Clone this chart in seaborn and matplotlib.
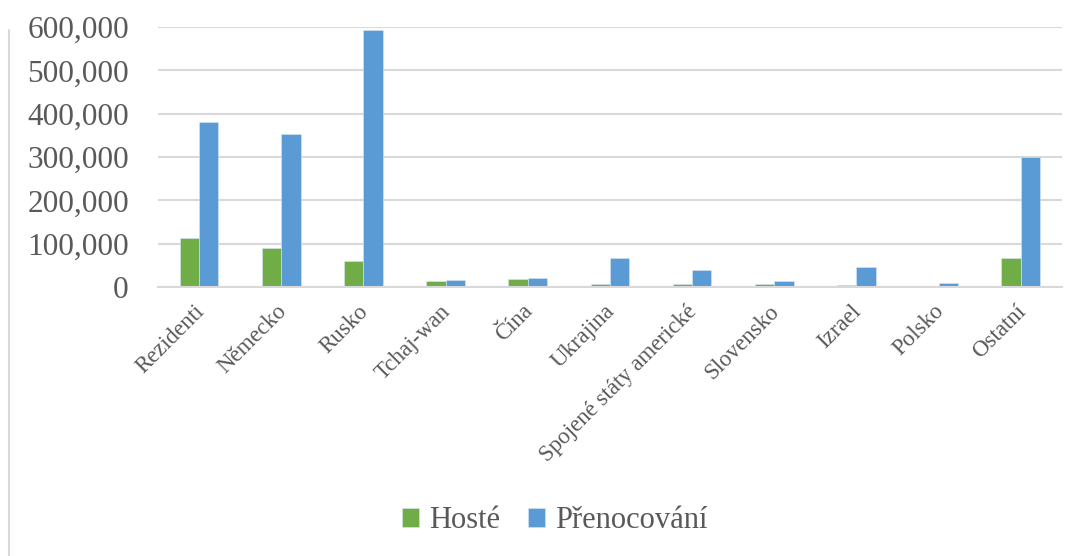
import matplotlib
matplotlib.use("Agg")
import matplotlib.pyplot as plt
import seaborn as sns
import pandas as pd
from matplotlib.lines import Line2D
from matplotlib.ticker import FuncFormatter

categories = ["Rezidenti", "Německo", "Rusko", "Tchaj-wan", "Čína", "Ukrajina",
              "Spojené státy americké", "Slovensko", "Izrael", "Polsko", "Ostatní"]
hoste = [114000, 91000, 59500, 14000, 18500, 6500, 6500, 6500, 4600, 2500, 68000]
prenocovani = [381000, 352000, 593000, 16000, 21000, 67000, 38500, 15000, 46500, 9500, 300000]
series_names = ["Hosté", "Přenocování"]
colors = ["#70ad47", "#5b9bd5"]

df = pd.DataFrame({
    "cat": categories * 2,
    "val": hoste + prenocovani,
    "series": [series_names[0]] * len(categories) + [series_names[1]] * len(categories),
})

sns.set_theme(style="white")
plt.rcParams["font.family"] = ["Liberation Serif", "DejaVu Serif"]

fig = plt.figure(figsize=(10.78, 5.56), dpi=100)
ax = fig.add_axes([0.1466, 0.4838, 0.985 - 0.1466, 0.9514 - 0.4838])

sns.barplot(data=df, x="cat", y="val", hue="series", order=categories,
            hue_order=series_names, palette=colors, width=0.47, ax=ax,
            saturation=1, edgecolor="#d6e6f5", linewidth=0.4, legend=True)

ax.set_ylim(0, 600000)
ax.set_yticks(range(0, 600001, 100000))
ax.yaxis.set_major_formatter(FuncFormatter(lambda v, p: f"{int(v):,}"))
ax.set_xlabel("")
ax.set_ylabel("")
ax.grid(axis="y", color="#d9d9d9", linewidth=1.5)
ax.set_axisbelow(True)
for s in ["top", "right", "left"]:
    ax.spines[s].set_visible(False)
ax.spines["bottom"].set_color("#d9d9d9")
ax.spines["bottom"].set_linewidth(1.5)
ax.tick_params(axis="y", labelsize=22.5, labelcolor="#595959", length=0, pad=21)
ax.tick_params(axis="x", labelsize=16.5, labelcolor="#595959", length=0, pad=14)
for lab in ax.get_xticklabels():
    lab.set_rotation(45)
    lab.set_ha("right")
    lab.set_va("center_baseline")
    lab.set_rotation_mode("anchor")

leg = ax.legend(loc="center", bbox_to_anchor=(555 / 1078, 1 - 521 / 556), bbox_transform=fig.transFigure,
                ncol=2, frameon=False, fontsize=22, handlelength=0.55, handleheight=0.6,
                handletextpad=0.35, columnspacing=0.9)
for t in leg.get_texts():
    t.set_color("#595959")

fig.add_artist(Line2D([9 / 1078, 9 / 1078], [0, 1 - 30 / 556], transform=fig.transFigure,
                      color="#d9d9d9", linewidth=1.5))

fig.savefig("out.png", dpi=100)
